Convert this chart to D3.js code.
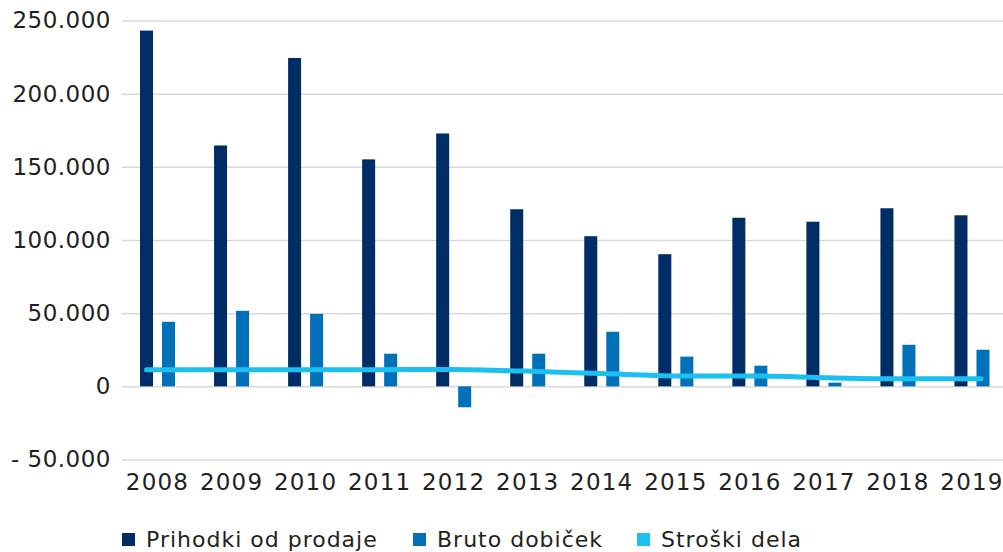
<!DOCTYPE html>
<html>
<head>
<meta charset="utf-8">
<script src="https://cdn.jsdelivr.net/npm/d3@7"></script>
<style>
  body { margin: 0; background: #fff; }
  text { font-family: "DejaVu Sans", sans-serif; fill: #231f20; }
</style>
</head>
<body>
<svg id="chart"></svg>
<script>
// data
var years = ["2008", "2009", "2010", "2011", "2012", "2013", "2014", "2015", "2016", "2017", "2018", "2019"];
var prihodki = [243100, 164600, 224400, 155100, 172800, 121000, 102600, 90300, 115200, 112500, 121700, 116900];
var bruto = [44100, 51600, 49500, 22300, -14300, 22300, 37300, 20300, 14100, 2500, 28400, 25000];
var stroski = [11400, 11400, 11400, 11400, 11500, 10400, 8700, 7100, 7100, 5800, 5100, 5100];
var seriesNames = ["Prihodki od prodaje", "Bruto dobiček", "Stroški dela"];
var colors = ["#002d66", "#0070b8", "#1bc0f1"];
var yTicks = [-50000, 0, 50000, 100000, 150000, 200000, 250000];

var width = 1003, height = 552;

var svg = d3.select("#chart")
  .attr("width", width)
  .attr("height", height);

// scales
var y = d3.scaleLinear([-50000, 250000], [459.5, 20.5]);

var x0 = d3.scaleBand(years, [120.5, 1009])
  .paddingInner(0.527)
  .paddingOuter(0.2635);

var x1 = d3.scaleBand([0, 1], [0, x0.bandwidth()])
  .paddingInner(0.409);

// line points sit on their own positions in the original
var xLine = d3.scalePoint(years, [146.5, 981]);

// number format with dot as thousands separator
var loc = d3.formatLocale({ decimal: ",", thousands: ".", grouping: [3], currency: ["", ""] });
var fmt = loc.format(",d");
function tickLabel(v) {
  return v < 0 ? "- " + fmt(-v) : fmt(v);
}

// y axis + gridlines
var yAxis = d3.axisLeft(y)
  .tickValues(yTicks)
  .tickSize(-(width - 122))
  .tickPadding(11)
  .tickFormat(tickLabel);

var gy = svg.append("g")
  .attr("transform", "translate(122,0)")
  .call(yAxis);
gy.select(".domain").remove();
gy.selectAll(".tick line").attr("stroke", "#d9d9d9").attr("stroke-width", 1.5);
gy.selectAll(".tick text")
  .style("font-size", "23px")
  .style("letter-spacing", "0.5px")
  .attr("fill", "#231f20");

// bars
var groups = svg.append("g").selectAll("g")
  .data(years)
  .enter()
  .append("g")
  .attr("transform", function (d) { return "translate(" + x0(d) + ",0)"; });

[prihodki, bruto].forEach(function (vals, s) {
  groups.append("rect")
    .attr("x", x1(s))
    .attr("width", x1.bandwidth())
    .attr("y", function (d, i) { return y(Math.max(0, vals[i])); })
    .attr("height", function (d, i) { return Math.abs(y(vals[i]) - y(0)); })
    .attr("fill", colors[s]);
});

// line
var line = d3.line()
  .x(function (d, i) { return xLine(years[i]); })
  .y(function (d) { return y(d); })
  .curve(d3.curveMonotoneX);

svg.append("path")
  .datum(stroski)
  .attr("d", line)
  .attr("fill", "none")
  .attr("stroke", colors[2])
  .attr("stroke-width", 5)
  .attr("stroke-linecap", "round")
  .attr("stroke-linejoin", "round");

// x labels
var xAxis = d3.axisBottom(x0).tickSize(0).tickPadding(0);
var gx = svg.append("g")
  .attr("transform", "translate(0,474)")
  .call(xAxis);
gx.select(".domain").remove();
gx.selectAll(".tick text")
  .style("font-size", "23px")
  .style("letter-spacing", "1.2px")
  .attr("fill", "#231f20")
  .attr("dy", "0.71em");

// legend
var legendX = [122, 413, 637];
var legend = svg.append("g").selectAll("g")
  .data(seriesNames)
  .enter()
  .append("g")
  .attr("transform", function (d, i) { return "translate(" + legendX[i] + ",533)"; });

legend.append("rect")
  .attr("width", 13)
  .attr("height", 13)
  .attr("fill", function (d, i) { return colors[i]; });

legend.append("text")
  .attr("x", 24)
  .attr("y", 6)
  .attr("dy", "0.35em")
  .style("font-size", "22px")
  .style("letter-spacing", "1px")
  .text(function (d) { return d; });
</script>
</body>
</html>
